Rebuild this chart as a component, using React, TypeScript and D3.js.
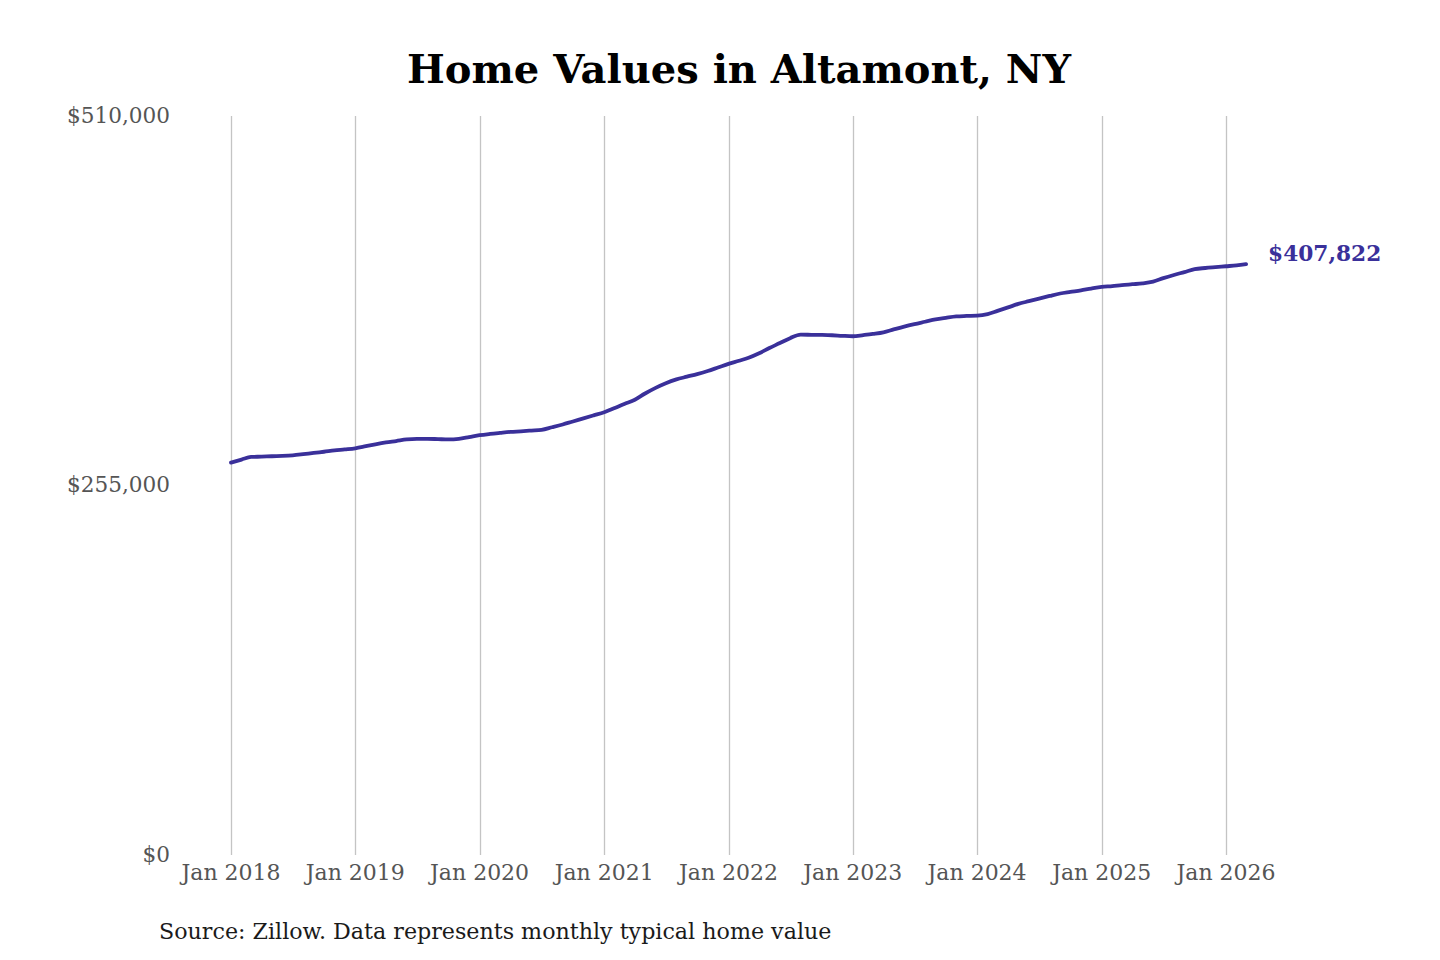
import React, { useEffect, useRef } from "react";
import * as d3 from "d3";

// Monthly typical home value, Jan 2018 .. Mar 2026
const startMonth = new Date(2018, 0, 1);

const homeValues: number[] = [
  270800, 272900, 274700, 274900, 275200, 275400, 275800, 276600, 277500, 278300, 279200, 279900,
  280700, 282100, 283400, 284700, 285700, 286800, 287200, 287200, 287000, 286800, 287200, 288400,
  289700, 290600, 291300, 292000, 292400, 292900, 293400, 295200, 297100, 299200, 301300, 303400,
  305600, 308500, 311300, 314200, 318500, 322400, 325600, 328200, 330100, 331900, 334000, 336400,
  338900, 341100, 343200, 346300, 349900, 353300, 356700, 359100, 359000, 358900, 358700, 358300,
  358000, 358800, 359600, 360700, 362700, 364700, 366400, 368000, 369600, 370700, 371700, 372000,
  372200, 373300, 375500, 377900, 380300, 382200, 384000, 385800, 387500, 388600, 389700, 390900,
  392000, 392600, 393300, 393900, 394500, 395700, 398100, 400300, 402300, 404300, 405100, 405700,
  406300, 406900, 407822,
];

const yTicks = [0, 255000, 510000];
const xTickYears = [2018, 2019, 2020, 2021, 2022, 2023, 2024, 2025, 2026];

const title = "Home Values in Altamont, NY";
const source = "Source: Zillow. Data represents monthly typical home value";

type Point = { date: Date; value: number };

const WIDTH = 1440;
const HEIGHT = 960;
const FONT = "'DejaVu Serif', serif";
const LINE_COLOR = "#3a309a";

export default function App() {
  const svgRef = useRef<SVGSVGElement>(null);

  useEffect(() => {
    if (!svgRef.current) return;
    const svg = d3.select(svgRef.current);
    svg.selectAll("*").remove();

    const data: Point[] = homeValues.map((value, i) => ({
      date: d3.timeMonth.offset(startMonth, i),
      value,
    }));

    const x = d3.scaleTime()
      .domain([new Date(2018, 0, 1), new Date(2026, 0, 1)])
      .range([231, 1226]);
    const y = d3.scaleLinear().domain([0, 510000]).range([855, 116]);

    // vertical gridlines
    const grid = svg.append("g");
    xTickYears.forEach(yr => {
      const gx = Math.round(x(new Date(yr, 0, 1))) + 0.5;
      grid.append("line")
        .attr("x1", gx).attr("x2", gx)
        .attr("y1", y(510000)).attr("y2", y(0))
        .attr("stroke", "#c4c4c4")
        .attr("stroke-width", 1.3);
    });

    // x tick labels
    svg.append("g")
      .selectAll("text")
      .data(xTickYears)
      .join("text")
      .attr("x", d => x(new Date(d, 0, 1)))
      .attr("y", 880)
      .attr("text-anchor", "middle")
      .attr("font-family", FONT)
      .attr("font-size", 22)
      .attr("fill", "#555")
      .text(d => `Jan ${d}`);

    // y tick labels
    svg.append("g")
      .selectAll("text")
      .data(yTicks)
      .join("text")
      .attr("x", 170)
      .attr("y", d => y(d))
      .attr("dy", "0.32em")
      .attr("text-anchor", "end")
      .attr("font-family", FONT)
      .attr("font-size", 21.6)
      .attr("fill", "#555")
      .text(d => "$" + d3.format(",")(d));

    // line
    const line = d3.line<Point>()
      .x(d => x(d.date))
      .y(d => y(d.value))
      .curve(d3.curveMonotoneX);

    svg.append("path")
      .datum(data)
      .attr("d", line)
      .attr("fill", "none")
      .attr("stroke", LINE_COLOR)
      .attr("stroke-width", 3.8)
      .attr("stroke-linecap", "round")
      .attr("stroke-linejoin", "round");

    // end label
    const last = data[data.length - 1];
    svg.append("text")
      .attr("x", x(last.date) + 22)
      .attr("y", y(last.value) - 10)
      .attr("dy", "0.32em")
      .attr("font-family", FONT)
      .attr("font-weight", "bold")
      .attr("font-size", 21.7)
      .attr("fill", LINE_COLOR)
      .text("$" + d3.format(",")(last.value));

    // title
    svg.append("text")
      .attr("x", 739)
      .attr("y", 83)
      .attr("text-anchor", "middle")
      .attr("font-family", FONT)
      .attr("font-weight", "bold")
      .attr("font-size", 40)
      .attr("fill", "#000")
      .text(title);

    // source note
    svg.append("text")
      .attr("x", 159)
      .attr("y", 939)
      .attr("font-family", FONT)
      .attr("font-size", 22.2)
      .attr("fill", "#1a1a1a")
      .text(source);
  }, []);

  return (
    <div style={{ position: "absolute", left: 0, top: 0, background: "#fff" }}>
      <svg ref={svgRef} width={WIDTH} height={HEIGHT} style={{ display: "block" }} />
    </div>
  );
}
